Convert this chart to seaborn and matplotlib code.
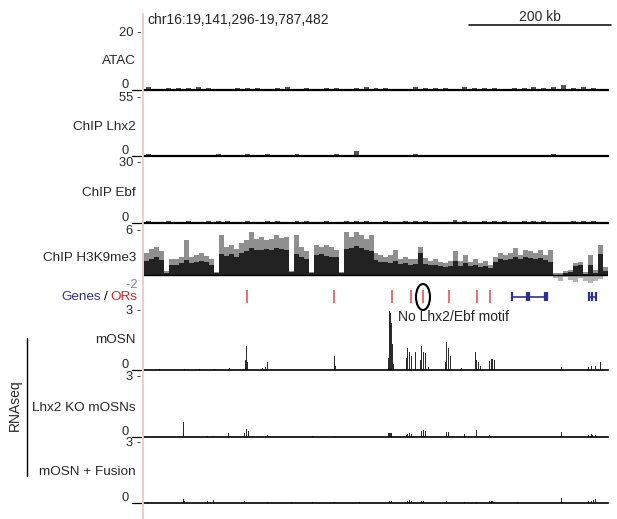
import numpy as np
import pandas as pd
import matplotlib.pyplot as plt
import seaborn as sns
from matplotlib.patches import Ellipse

# ============================================================
# DATA (genomic positions in kb from chr16:19,141,296)
# ============================================================
region_label = "chr16:19,141,296-19,787,482"
region_kb = 646.2

# ChIP / ATAC background, one value per 13.75 kb bin
atac = [0.9, 0.5, 0.7, 0.8, 0.6, 0.9, 0.8, 0.5, 0.4, 0.7, 0.6, 0.8, 0.5, 0.6, 0.9, 0.5,
        0.7, 0.4, 0.8, 0.6, 0.5, 0.7, 0.9, 0.6, 0.8, 0.5, 0.4, 0.9, 0.7, 0.6, 0.8, 0.5,
        0.9, 0.7, 0.6, 0.8, 0.5, 0.7, 0.6, 0.9, 0.7, 1.0, 1.8, 0.8, 1.1, 0.6, 0.3]
lhx2 = [1.5, 1.0, 1.2, 0.8, 1.4, 1.0, 1.3, 1.6, 1.2, 1.0, 1.5, 1.3, 1.8, 1.4, 1.2, 1.6,
        1.3, 1.0, 1.2, 1.5, 1.1, 5.0, 1.4, 1.2, 1.0, 1.3, 1.1, 1.5, 1.2, 0.9, 1.1, 0.8,
        0.0, 0.0, 1.2, 1.0, 1.3, 1.1, 1.4, 1.2, 1.0, 1.5, 1.3, 1.1, 1.4, 1.2, 0.8]
ebf = [0.9, 0.6, 0.8, 0.7, 1.0, 0.6, 0.9, 0.8, 1.0, 0.7, 0.9, 0.6, 0.8, 1.1, 0.7, 0.9,
       0.8, 0.6, 1.0, 0.7, 0.9, 0.8, 1.0, 0.7, 0.8, 0.6, 0.9, 1.0, 0.8, 0.7, 0.6, 1.4,
       0.8, 0.7, 0.9, 1.0, 0.8, 0.7, 0.9, 1.1, 0.8, 0.7, 0.6, 0.9, 1.0, 0.8, 0.5]

# H3K9me3, one value per ~6.95 kb bin: max (grey) and mean (black)
h3_max = [3.0, 3.6, 3.8, 3.3, 0.5, 2.2, 2.1, 2.5, 4.7, 2.5, 2.7, 3.0, 2.6, 2.2, 0.4, 5.5,
          3.8, 4.1, 3.6, 4.4, 4.7, 5.8, 4.9, 5.2, 4.7, 4.9, 5.5, 5.1, 5.2, 0.5, 5.5, 3.8,
          3.3, 0.4, 4.1, 3.8, 4.1, 3.8, 3.4, 0.4, 5.9, 5.2, 5.9, 5.5, 4.9, 5.5, 3.0, 2.7,
          2.5, 2.7, 3.4, 2.2, 2.5, 2.1, 2.2, 3.8, 2.3, 1.9, 2.2, 1.8, 1.6, 1.9, 3.2, 1.9,
          2.7, 1.8, 2.1, 1.6, 1.9, 1.4, 2.5, 3.0, 2.7, 3.0, 3.7, 2.7, 3.4, 3.3, 3.0, 3.4,
          2.7, 3.4, 0.3, 0.3, 0.5, 0.7, 1.6, 1.8, 0.4, 2.7, 0.7, 4.1, 1.1]
h3_mean = [1.9, 2.2, 2.4, 2.0, 0.3, 1.4, 1.4, 1.6, 2.0, 1.6, 1.7, 1.9, 1.7, 1.4, 0.3, 2.9,
           2.6, 2.8, 2.5, 3.0, 3.2, 3.7, 3.4, 3.4, 3.5, 3.4, 3.7, 3.5, 3.4, 0.4, 2.8, 2.4,
           2.2, 0.3, 2.7, 2.8, 2.6, 2.5, 2.4, 0.3, 3.6, 3.7, 4.0, 3.7, 3.4, 3.2, 2.0, 1.7,
           1.7, 1.6, 1.9, 1.5, 1.6, 1.4, 1.5, 3.0, 1.5, 1.3, 1.4, 1.2, 1.1, 1.2, 1.9, 1.2,
           1.6, 1.2, 1.3, 1.1, 1.2, 0.9, 1.8, 2.1, 2.0, 2.1, 2.5, 2.1, 2.4, 2.3, 2.1, 2.3,
           2.0, 1.8, 0.0, 0.0, 0.3, 0.4, 1.2, 1.3, 0.1, 1.3, 0.3, 2.8, 0.5]
h3_neg_kb = [572, 578, 585, 592, 599, 606, 613, 620, 627, 634]
h3_neg = [-0.5, -0.9, -0.3, -0.7, -1.0, -0.4, -0.8, -1.1, -0.9, -0.6]

# RNA-seq peaks
mosn_kb = [22, 57, 78, 99, 120, 141.9, 143.4, 144.8, 164.3, 168.5, 171.3, 264.6, 266.0,
           341.2, 342.6, 344.0, 345.3, 346.7, 348.1, 366.2, 367.6, 370.4, 373.2, 378.8,
           386.0, 387.1, 389.9, 392.7, 396.9, 420.5, 421.9, 424.7, 427.5, 442.8, 462.3,
           463.7, 466.5, 469.3, 481.8, 484.6, 487.4, 580.7, 618.3, 623.8, 629.4, 636.4]
mosn = [0.05, 0.05, 0.06, 0.05, 0.08, 0.5, 1.2, 0.4, 0.1, 0.15, 0.4, 0.7, 0.2,
        0.6, 3.2, 2.9, 2.4, 1.3, 0.3, 0.6, 1.1, 0.9, 0.7, 0.9,
        0.5, 1.2, 0.9, 0.85, 0.15, 0.4, 1.4, 1.1, 0.7, 0.1, 0.9,
        0.5, 0.4, 0.2, 0.45, 0.56, 0.5, 0.15, 0.15, 0.2, 0.2, 0.4]
ko_kb = [55.7, 89.1, 97.5, 118.4, 140.6, 143.4, 146.2, 171.3, 233.9, 264.6, 341.2, 342.6,
         344.0, 345.3, 366.2, 367.6, 370.4, 373.2, 387.1, 389.9, 392.7, 421.9, 424.7, 447.0,
         463.7, 481.8, 580.7, 618.3, 622.5, 625.2, 629.4]
ko = [0.75, 0.05, 0.05, 0.2, 0.2, 0.4, 0.3, 0.1, 0.05, 0.05, 0.2, 0.22,
      0.22, 0.2, 0.1, 0.15, 0.2, 0.15, 0.3, 0.35, 0.3, 0.25, 0.25, 0.15,
      0.35, 0.1, 0.25, 0.1, 0.15, 0.1, 0.12]
fus_kb = [5, 55.7, 57.1, 89.1, 97.5, 140.6, 171.3, 205, 233.9, 264.6, 300, 342.6, 345.3,
          367.6, 370.4, 373.2, 387.1, 389.9, 421.9, 447.0, 463.7, 481.8, 484.6, 520,
          580.7, 618.3, 622.5, 626.6, 629.4]
fus = [0.05, 0.22, 0.1, 0.1, 0.15, 0.1, 0.05, 0.05, 0.05, 0.05, 0.05, 0.1, 0.1,
       0.1, 0.15, 0.12, 0.1, 0.08, 0.1, 0.05, 0.05, 0.1, 0.08, 0.05,
       0.25, 0.1, 0.12, 0.15, 0.18]

# annotations
or_kb = [143.4, 264.6, 345.3, 371.8, 388.5, 424.7, 463.7, 481.8]
gene_spans = [(512.4, 562.6), (619.7, 629.4)]
gene_exons = [512.4, 533.3, 536.1, 558.4, 561.2, 619.7, 623.8, 629.4]

# ============================================================
# FIGURE
# ============================================================
sns.set_style("white")
plt.rcParams['font.family'] = ['Liberation Sans', 'DejaVu Sans']

W, H = 617, 519
fig = plt.figure(figsize=(W / 100, H / 100), dpi=100)

def track_ax(top, bottom):
    ax = fig.add_axes([144 / W, 1 - bottom / H, 464 / W, (bottom - top) / H])
    ax.set_xlim(0, region_kb)
    ax.set_xticks([])
    ax.set_yticks([])
    for s in ax.spines.values():
        s.set_visible(False)
    ax.patch.set_alpha(0)
    return ax

def ylabels(ax, top_txt, bot_txt):
    # UCSC style scale labels: "max -" at the top, "0 _" at the bottom
    ax.text(-0.006, 1.0, top_txt + " -", transform=ax.transAxes, ha='right', va='center', fontsize=9.3)
    ax.annotate(bot_txt, xy=(0, 0), xycoords='axes fraction', xytext=(-11, -0.5),
                textcoords='offset points', ha='right', va='bottom', fontsize=9.3)
    ax.plot([-0.026, -0.005], [0, 0], transform=ax.transAxes, color='black', lw=0.9, clip_on=False)

def track_label(y, txt):
    fig.text(136 / W, 1 - y / H, txt, ha='right', va='center', fontsize=9.7)

def signal(ax, x, w, bins, color, shrink=1.0):
    sns.histplot(x=x, weights=w, bins=bins, binrange=(0, region_kb), element='bars',
                 fill=True, color=color, alpha=1, linewidth=0, shrink=shrink, ax=ax)
    ax.set_xlabel('')
    ax.set_ylabel('')
    ax.set_xlim(0, region_kb)

bg_bin = region_kb / len(atac)
bg_x = np.arange(len(atac)) * bg_bin + bg_bin / 2

# ChIP / ATAC tracks
chip = [
    (33, 90, atac, 20, "20", "ATAC"),
    (98, 156, lhx2, 55, "55", "ChIP Lhx2"),
    (163, 223, ebf, 30, "30", "ChIP Ebf"),
]
for top, bottom, vals, ymax, ttxt, name in chip:
    ax = track_ax(top, bottom)
    signal(ax, bg_x, vals, len(vals), '#555555', shrink=0.5)
    ax.set_ylim(0, ymax)
    ax.spines['bottom'].set_visible(True)
    ax.spines['bottom'].set_color('black')
    ax.spines['bottom'].set_linewidth(1.6)
    ylabels(ax, ttxt, "0")
    track_label((top + bottom) / 2, name)

# H3K9me3
h3_bin = region_kb / len(h3_max)
h3_x = np.arange(len(h3_max)) * h3_bin + h3_bin / 2
ax = track_ax(231, 285)
signal(ax, h3_x, h3_max, len(h3_max), '#8f8f8f')
signal(ax, h3_neg_kb, h3_neg, len(h3_max), '#b5b5b5')
signal(ax, h3_x, h3_mean, len(h3_mean), '#222222')
ax.axhline(0, color='black', lw=1.0)
ax.set_ylim(-1.4, 6)
ax.text(-0.006, 1.0, "6 -", transform=ax.transAxes, ha='right', va='center', fontsize=9.3)
ax.text(-0.006, 0.0, "-2 ", transform=ax.transAxes, ha='right', va='center', fontsize=9.3, color='#888888')
track_label(258, "ChIP H3K9me3")

# Genes / ORs row
ax = track_ax(287, 306)
ax.set_ylim(0, 1)
ax.vlines(or_kb, 0.15, 0.85, color='#e8434a', lw=1.1)
for a, b in gene_spans:
    ax.hlines(0.5, a, b, color='#2e3192', lw=1.2)
ax.vlines(gene_exons, 0.25, 0.75, color='#2e3192', lw=1.6)
fig.text(101 / W, 1 - 297 / H, "Genes", color='#2e3192', ha='right', va='center', fontsize=9.7)
fig.text(105.5 / W, 1 - 297 / H, "/", color='black', ha='center', va='center', fontsize=9.7)
fig.text(110 / W, 1 - 297 / H, "ORs", color='#e31e24', ha='left', va='center', fontsize=9.7)

# RNA-seq tracks
rna = [
    (311, 370, mosn_kb, mosn, "mOSN", 340),
    (377, 437, ko_kb, ko, "Lhx2 KO mOSNs", 408),
    (443, 503, fus_kb, fus, "mOSN + Fusion", 472),
]
n_rna_bins = 462
for top, bottom, xs, vals, name, ly in rna:
    ax = track_ax(top, bottom)
    signal(ax, xs, vals, n_rna_bins, '#2b2b2b')
    ax.set_ylim(0, 3)
    ax.spines['bottom'].set_visible(True)
    ax.spines['bottom'].set_color('black')
    ax.spines['bottom'].set_linewidth(1.2)
    ylabels(ax, "3", "0")
    track_label(ly, name)

# overlay in pixel coordinates for annotations
ov = fig.add_axes([0, 0, 1, 1])
ov.set_xlim(0, W)
ov.set_ylim(H, 0)
ov.axis('off')
ov.patch.set_alpha(0)
ov.plot([143, 143], [14, H], color='#f3c5ca', lw=1.3)
ov.text(147, 20, region_label, ha='left', va='center', fontsize=10)
ov.plot([469, 611], [25, 25], color='black', lw=1.1)
ov.text(540, 17, "200 kb", ha='center', va='center', fontsize=10)
ov.add_patch(Ellipse((423, 297), 14, 26, fill=False, color='black', lw=1.5))
ov.text(398, 317, "No Lhx2/Ebf motif", ha='left', va='center', fontsize=10)
ov.plot([27, 27], [338, 476], color='black', lw=1.0)
ov.text(15, 405, "RNAseq", rotation=90, ha='center', va='center', fontsize=10)

fig.savefig("out.png", dpi=100)
